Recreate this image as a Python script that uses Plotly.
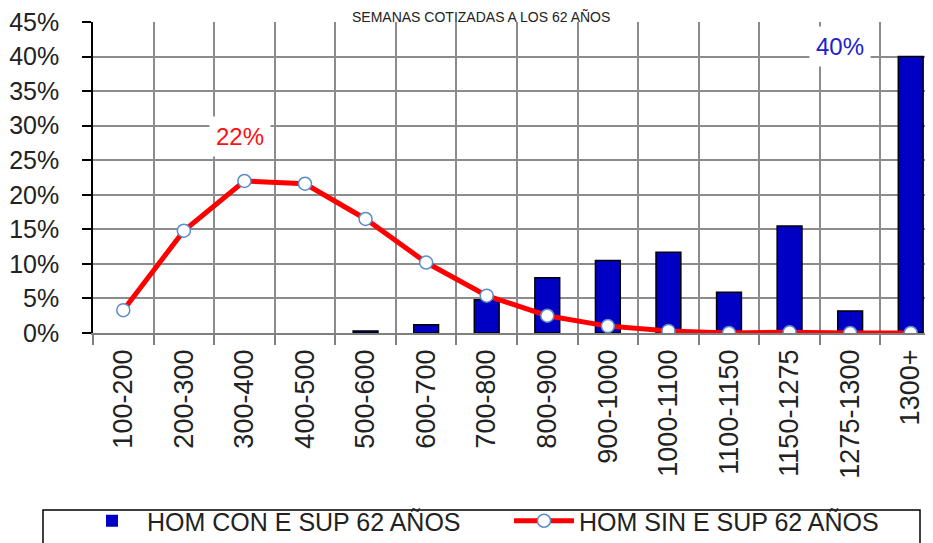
import plotly.graph_objects as go

categories = ["100-200", "200-300", "300-400", "400-500", "500-600", "600-700",
              "700-800", "800-900", "900-1000", "1000-1100", "1100-1150",
              "1150-1275", "1275-1300", "1300+"]
hom_con = [0, 0, 0, 0, 0.3, 1.2, 4.8, 8.0, 10.5, 11.7, 5.9, 15.5, 3.2, 40.0]
hom_sin = [3.3, 14.8, 22.0, 21.6, 16.5, 10.2, 5.4, 2.5, 1.0, 0.3, 0.0, 0.1, 0.0, 0.0]
y_ticks = [0, 5, 10, 15, 20, 25, 30, 35, 40, 45]
y_tick_text = ["0%", "5%", "10%", "15%", "20%", "25%", "30%", "35%", "40%", "45%"]
title_text = "SEMANAS COTIZADAS A LOS 62 AÑOS"
name_con = "HOM CON E SUP 62 AÑOS"
name_sin = "HOM SIN E SUP 62 AÑOS"

FONT = "Liberation Sans"
W, H = 933, 543
# page body adds an 8px offset; positions below are in figure coordinates
ML, MT, MB, MR = 85, 14, 218, 0
plot_h = H - MT - MB
plot_w = W - ML - MR
bottom_px = MT + plot_h


def px_x(p):
    return (p - ML) / plot_w


def px_y(p):
    return (bottom_px - p) / plot_h


# empty (zero) bars get no outline, as in the original chart
bar_outline = [0 if v == 0 else 1.5 for v in hom_con]

fig = go.Figure()
fig.add_trace(go.Bar(
    x=categories, y=hom_con, name=name_con, width=0.41,
    marker=dict(color="#0000C4", line=dict(color="#000000", width=bar_outline)),
))
fig.add_trace(go.Scatter(
    x=categories, y=hom_sin, name=name_sin, mode="lines+markers",
    line=dict(color="#FF0000", width=5),
    marker=dict(size=13, color="#FFFFFF", line=dict(color="#5B8BC8", width=1.5)),
))

# data labels
fig.add_annotation(x=categories[2], y=hom_sin[2], text="22%", showarrow=False,
                   yshift=44, xshift=-4, bgcolor="#FFFFFF", borderpad=6,
                   font=dict(family=FONT, size=24, color="#FF1010"))
fig.add_annotation(x=categories[13], y=hom_con[13], text="40%", showarrow=False,
                   yshift=10, xshift=-71, bgcolor="#FFFFFF", borderpad=6,
                   font=dict(family=FONT, size=24, color="#2020D0"))

# title (kept small so it stays fully visible in the thin top strip)
fig.add_annotation(xref="paper", yref="paper", x=px_x(473),
                   y=px_y(0), yanchor="top", xanchor="center",
                   text=title_text, showarrow=False, borderpad=0,
                   font=dict(family=FONT, size=14, color="#222222"))

# legend frame
fig.add_shape(type="rect", xref="paper", yref="paper",
              x0=px_x(35), x1=px_x(912), y0=px_y(570), y1=px_y(502),
              line=dict(color="#000000", width=1.5), fillcolor="rgba(0,0,0,0)")

fig.update_layout(
    width=W, height=H,
    margin=dict(l=ML, r=MR, t=MT, b=MB, pad=0),
    paper_bgcolor="#FFFFFF", plot_bgcolor="#FFFFFF",
    font=dict(family=FONT, color="#222222"),
    showlegend=True,
    legend=dict(orientation="h", x=px_x(69), y=px_y(490),
                yanchor="top", xanchor="left",
                font=dict(family=FONT, size=25, color="#222222"),
                itemwidth=60, bgcolor="rgba(0,0,0,0)", traceorder="normal",
                entrywidth=357, entrywidthmode="pixels"),
)
fig.update_xaxes(
    type="category", range=[-0.5, 13.5], tickson="boundaries",
    ticks="outside", ticklen=10, tickcolor="#808080", tickwidth=1.5,
    showgrid=True, gridcolor="#8C8C8C", gridwidth=1.5,
    showline=True, linecolor="#808080", linewidth=1.5,
    tickangle=-90, tickfont=dict(family=FONT, size=27, color="#222222"),
    ticklabelstandoff=4, zeroline=False,
)
fig.update_yaxes(
    range=[0, 45], tickvals=y_ticks, ticktext=y_tick_text,
    ticks="outside", ticklen=9, tickcolor="#000000", tickwidth=1.5,
    showgrid=True, gridcolor="#8C8C8C", gridwidth=1.5,
    showline=True, linecolor="#000000", linewidth=1.5,
    tickfont=dict(family=FONT, size=25, color="#222222"),
    ticklabelstandoff=18, ticklabeloverflow="allow", zeroline=False,
)

fig.write_html("out.html")
